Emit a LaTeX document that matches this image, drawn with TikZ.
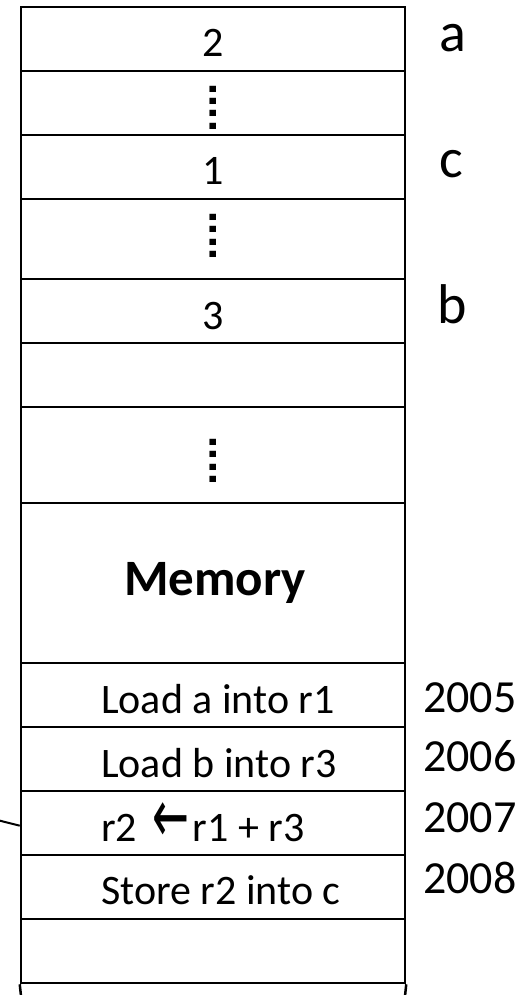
\documentclass[tikz,border=0pt]{standalone}
\usepackage{fontspec}
\setmainfont{Carlito}
\newfontfamily\arrowfont{DejaVu Sans}
\newfontfamily\dotfont{Liberation Sans}
\usepackage{graphicx}
\begin{document}
\begin{tikzpicture}[x=1pt,y=-1pt,
  cell/.style={draw, line width=2.5pt, rectangle, minimum width=384pt, inner sep=0pt},
  val/.style={font=\fontsize{42}{50}\selectfont, anchor=base, inner sep=0pt},
  instr/.style={font=\fontsize{42}{50}\selectfont, anchor=base west, inner sep=0pt},
  addr/.style={font=\fontsize{46}{55}\selectfont, anchor=base west, inner sep=0pt},
  varname/.style={font=\fontsize{56}{66}\selectfont, anchor=base west, inner sep=0pt},
  vdots/.style={font=\dotfont\fontsize{44}{54}\selectfont\bfseries, rotate=90, inner sep=0pt},
  memtitle/.style={font=\fontsize{51}{60}\selectfont\bfseries, anchor=base, inner sep=0pt},
  link/.style={draw, line width=2pt}]
\useasboundingbox (0,0) rectangle (530,995);
% memory cells
\node[cell, minimum height=64pt] (cA)  at (213,39) {};
\node[cell, minimum height=64pt] (cD1) at (213,103) {};
\node[cell, minimum height=64pt] (cC)  at (213,167) {};
\node[cell, minimum height=80pt] (cD2) at (213,239) {};
\node[cell, minimum height=64pt] (cB)  at (213,311) {};
\node[cell, minimum height=64pt] (cE1) at (213,375) {};
\node[cell, minimum height=96pt] (cD3) at (213,455) {};
\node[cell, minimum height=160pt] (cM) at (213,583) {};
\node[cell, minimum height=64pt] (cI1) at (213,695) {};
\node[cell, minimum height=64pt] (cI2) at (213,759) {};
\node[cell, minimum height=64pt] (cI3) at (213,823) {};
\node[cell, minimum height=64pt] (cI4) at (213,887) {};
\node[cell, minimum height=64pt] (cE2) at (213,951) {};
\coordinate (bl) at (21,996);
\coordinate (br) at (405,996);
\draw[line width=2.5pt] (cE2.south west) -- (bl);
\draw[line width=2.5pt] (cE2.south east) -- (br);
% values
\node[val] (v2) at (213,57) {2};
\node[val] (v1) at (213,185) {1};
\node[val] (v3) at (213,329) {3};
% dots
\node[vdots] (d1) at (213,107.7) {....};
\node[vdots] (d2) at (213,236) {....};
\node[vdots] (d3) at (213,461) {....};
% title
\node[memtitle] (mem) at (215,595) {Memory};
% instructions
\node[instr] (i1) at (101,713) {Load a into r1};
\node[instr] (i2) at (101,777) {Load b into r3};
\node[instr] (i3) at (101,841) {r2 \makebox[46pt][l]{\hspace{6pt}\raisebox{-1pt}{\scalebox{1.05}[1.8]{\arrowfont ←}}}r1 + r3};
\node[instr] (i4) at (101,904) {Store r2 into c};
% variable names
\node[varname] (na) at (439,52) {a};
\node[varname] (nc) at (439,178) {c};
\node[varname] (nb) at (437,323) {b};
% addresses
\node[addr] (a5) at (423,712) {2005};
\node[addr] (a6) at (423,771) {2006};
\node[addr] (a7) at (423,832) {2007};
\node[addr] (a8) at (423,893) {2008};
% incoming connector
\coordinate (lend) at (0,820.7);
\draw[link] (lend) -- ([yshift=-2.7pt]cI3.west);
\end{tikzpicture}
\end{document}
